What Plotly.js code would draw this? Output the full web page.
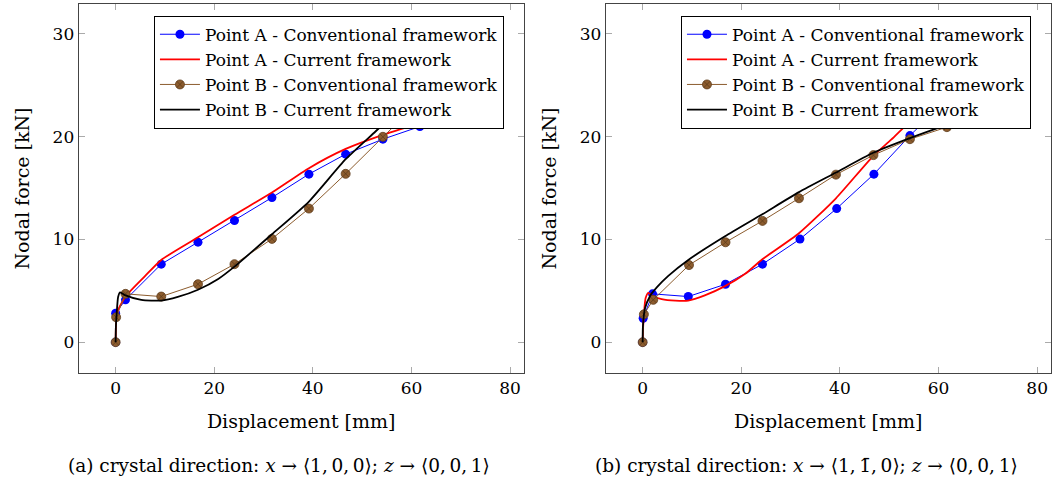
<!DOCTYPE html>
<html>
<head>
<meta charset="utf-8">
<script src="https://cdn.plot.ly/plotly-3.0.1.min.js"></script>
<style>html,body{margin:0;padding:0;background:#fff;}#chart{width:1053px;height:483px;}</style>
</head>
<body>
<div id="chart"></div>
<script>
// ---- Panel (a): x -> <1,0,0>
const aA_conv_x = [0, 0, 2.0, 9.25, 16.7, 24.1, 31.7, 39.2, 46.65, 54.2, 61.7, 69.1];
const aA_conv_y = [0, 2.82, 4.12, 7.59, 9.73, 11.84, 14.07, 16.35, 18.29, 19.75, 20.98, 22.1];
const aA_cur_x = [0, 0.1, 0.4, 2.0, 5.9, 9.25, 16.7, 24.1, 31.7, 39.2, 46.65, 54.2, 61.7, 69.1];
const aA_cur_y = [0, 2.0, 3.0, 4.44, 6.4, 8.0, 10.2, 12.39, 14.56, 16.93, 18.8, 20.17, 21.3, 22.4];
const aB_conv_x = [0, 0.1, 2.0, 9.25, 16.7, 24.1, 31.7, 39.2, 46.65, 54.2, 61.7, 69.1];
const aB_conv_y = [0, 2.43, 4.70, 4.44, 5.64, 7.59, 10.05, 13.0, 16.38, 19.98, 23.5, 26.5];
const aB_cur_x = [0, 0.05, 0.2, 0.5, 0.9, 2.0, 5.2, 9.25, 12.6, 16.7, 20.8, 24.1, 31.7, 39.2, 46.65, 52.7, 55.9, 62, 70, 75];
const aB_cur_y = [0, 1.5, 2.7, 4.4, 4.85, 4.55, 4.12, 4.05, 4.4, 5.1, 6.15, 7.35, 10.5, 13.68, 17.8, 20.5, 21.95, 24.8, 28.3, 30];

// ---- Panel (b): x -> <1,-1,0>
const bA_conv_x = [0, 0.1, 2.0, 9.25, 16.8, 24.3, 31.9, 39.35, 46.9, 54.2, 61.7, 69.1];
const bA_conv_y = [0, 2.33, 4.70, 4.44, 5.64, 7.59, 10.03, 13.0, 16.35, 20.1, 23.6, 27.0];
const bA_cur_x = [0, 0.1, 0.3, 0.6, 1.15, 2.0, 3.85, 6.6, 9.25, 12.6, 16.7, 20.8, 24.1, 31.7, 39.2, 46.65, 50.4, 53.4, 60, 68, 75];
const bA_cur_y = [0, 1.5, 3.0, 4.3, 4.8, 4.5, 4.2, 4.05, 4.05, 4.55, 5.45, 6.65, 8.0, 10.6, 14.0, 18.06, 19.7, 21.1, 24.0, 27.5, 30];
const bB_conv_x = [0, 0.25, 2.15, 9.4, 16.8, 24.3, 31.7, 39.2, 46.8, 54.2, 61.7, 69.1];
const bB_conv_y = [0, 2.71, 4.12, 7.5, 9.72, 11.8, 14.0, 16.3, 18.2, 19.75, 20.92, 22.0];
const bB_cur_x = [0, 0.05, 0.47, 1.5, 3.0, 5.2, 9.25, 16.7, 24.1, 31.7, 39.2, 46.65, 54.2, 61.7, 69, 75];
const bB_cur_y = [0, 1.5, 3.3, 4.5, 5.4, 6.45, 8.0, 10.3, 12.4, 14.6, 16.5, 18.4, 19.85, 21.14, 22.3, 23.3];

const names = ['Point A - Conventional framework', 'Point A - Current framework',
               'Point B - Conventional framework', 'Point B - Current framework'];
const xTicks = [0, 20, 40, 60, 80];
const yTicks = [0, 10, 20, 30];
const captions = ['(a) crystal direction: <i>x</i> \u2192 \u27E81,\u20090,\u20090\u27E9; <i>z</i> \u2192 \u27E80,\u20090,\u20091\u27E9',
                  '(b) crystal direction: <i>x</i> \u2192 \u27E81,\u20091\u0304,\u20090\u27E9; <i>z</i> \u2192 \u27E80,\u20090,\u20091\u27E9'];

const BLUE = '#0000ff', RED = '#ff0000', BROWN = '#8c5c2e', BLACK = '#000000';
const FONT = 'DejaVu Serif';

function panel(xs, ys, xa, ya, leg) {
  const sfx = xa === 'x' ? 'a' : 'b';
  return [
    {x: xs[0], y: ys[0], name: names[0], xaxis: xa, yaxis: ya, legend: leg, legendgroup: sfx + '0',
     mode: 'lines+markers', line: {color: BLUE, width: 1},
     marker: {symbol: 'circle', size: 9, color: BLUE}},
    {x: xs[1], y: ys[1], name: names[1], xaxis: xa, yaxis: ya, legend: leg, legendgroup: sfx + '1',
     mode: 'lines', line: {color: RED, width: 1.8, shape: 'spline', smoothing: 0.6}},
    {x: xs[2], y: ys[2], name: names[2], xaxis: xa, yaxis: ya, legend: leg, legendgroup: sfx + '2',
     mode: 'lines+markers', line: {color: BROWN, width: 1},
     marker: {symbol: 'circle-x', size: 9, color: BROWN, line: {color: '#5e3c1c', width: 0.8}}},
    {x: xs[3], y: ys[3], name: names[3], xaxis: xa, yaxis: ya, legend: leg, legendgroup: sfx + '3',
     mode: 'lines', line: {color: BLACK, width: 1.8, shape: 'spline', smoothing: 0.6}}
  ];
}

const data = [].concat(
  panel([aA_conv_x, aA_cur_x, aB_conv_x, aB_cur_x], [aA_conv_y, aA_cur_y, aB_conv_y, aB_cur_y], 'x', 'y', 'legend'),
  panel([bA_conv_x, bA_cur_x, bB_conv_x, bB_cur_x], [bA_conv_y, bA_cur_y, bB_conv_y, bB_cur_y], 'x2', 'y2', 'legend2')
);

function xax(dom, anchor) {
  return {domain: dom, anchor: anchor, range: [-7.5, 82.75], tickvals: xTicks, ticktext: xTicks.map(String),
    showgrid: false, zeroline: false, showline: true, linecolor: '#444', linewidth: 1, mirror: 'ticks',
    ticks: 'inside', ticklen: 6, tickcolor: '#aaa', tickwidth: 1,
    tickfont: {family: FONT, size: 17, color: '#000'},
    title: {text: 'Displacement [mm]', font: {family: FONT, size: 19, color: '#000'}, standoff: 17}};
}
function yax(dom, anchor) {
  return {domain: dom, anchor: anchor, range: [-3, 32.9], tickvals: yTicks, ticktext: yTicks.map(String),
    showgrid: false, zeroline: false, showline: true, linecolor: '#444', linewidth: 1, mirror: 'ticks',
    ticks: 'inside', ticklen: 6, tickcolor: '#aaa', tickwidth: 1,
    tickfont: {family: FONT, size: 17, color: '#000'},
    title: {text: 'Nodal force [kN]', font: {family: FONT, size: 19, color: '#000'}, standoff: 17}};
}

const yDom = [0.2277, 0.9917];
const legStyle = {bgcolor: '#fff', bordercolor: '#000', borderwidth: 1, xanchor: 'left', yanchor: 'top',
  font: {family: FONT, size: 17, color: '#000'}, tracegroupgap: 3, itemwidth: 40, traceorder: 'normal'};

const layout = {
  width: 1053, height: 483,
  margin: {l: 0, r: 0, t: 0, b: 0},
  paper_bgcolor: '#fff', plot_bgcolor: '#fff',
  font: {family: FONT},
  showlegend: true,
  xaxis: xax([0.0747, 0.4973], 'y'),
  yaxis: yax(yDom, 'x'),
  xaxis2: xax([0.5752, 0.9978], 'y2'),
  yaxis2: yax(yDom, 'x2'),
  legend: Object.assign({x: 0.1462, y: 0.9675}, legStyle),
  legend2: Object.assign({x: 0.6467, y: 0.9675}, legStyle),
  annotations: [
    {text: captions[0], xref: 'paper', yref: 'paper', x: 279 / 1053, y: 1 - 465 / 483, xanchor: 'center', yanchor: 'middle',
     showarrow: false, font: {family: FONT, size: 18.5, color: '#000'}},
    {text: captions[1], xref: 'paper', yref: 'paper', x: 806 / 1053, y: 1 - 465 / 483, xanchor: 'center', yanchor: 'middle',
     showarrow: false, font: {family: FONT, size: 18.5, color: '#000'}}
  ]
};

Plotly.newPlot('chart', data, layout, {displayModeBar: false, staticPlot: true});
</script>
</body>
</html>
